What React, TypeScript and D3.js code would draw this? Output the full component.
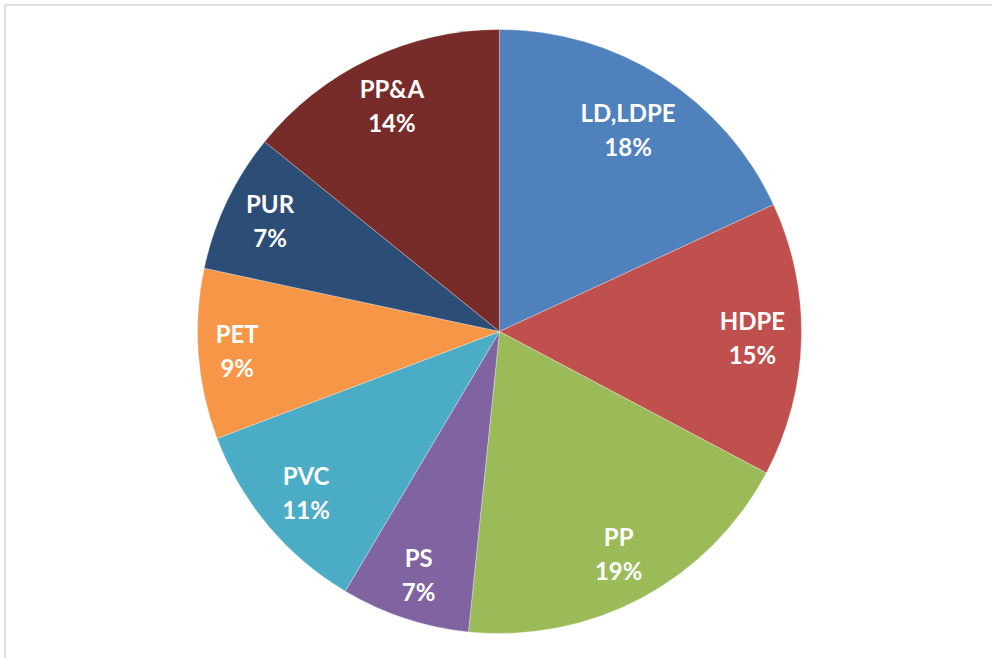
import React from "react";
import * as d3 from "d3";

const categories = ["LD,LDPE", "HDPE", "PP", "PS", "PVC", "PET", "PUR", "PP&A"];
const values = [18.1, 14.66, 18.88, 6.89, 10.71, 9.12, 7.46, 14.18];
const colors = ["#4F81BD", "#C0504D", "#9BBB59", "#8064A2", "#4BACC6", "#F79646", "#2C4D75", "#772C2A"];

const W = 992;
const H = 658;
const CX = 499.5;
const CY = 331.5;
const R = 302;
const FONT_SIZE = 24;
const LINE_GAP = 34;
const FONT = `700 ${FONT_SIZE}px Lato`;

function measure(text: string): number {
  if (typeof document === "undefined") return text.length * FONT_SIZE * 0.55;
  const c = document.createElement("canvas");
  const ctx = c.getContext("2d");
  if (!ctx) return text.length * FONT_SIZE * 0.55;
  ctx.font = FONT;
  return ctx.measureText(text).width;
}

// place label box inside the pie: largest radius along the mid-angle where the
// box's outer corner stays within a target distance from the centre
function fitRadius(angle: number, hw: number, hh: number, target: number): number {
  const ux = Math.sin(angle);
  const uy = -Math.cos(angle);
  const ox = ux >= 0 ? hw : -hw;
  const oy = uy >= 0 ? hh : -hh;
  const b = ux * ox + uy * oy;
  const c = ox * ox + oy * oy - target * target;
  return -b + Math.sqrt(b * b - c);
}

export default function App() {
  const data = categories.map((c, i) => ({ name: c, value: values[i], color: colors[i] }));
  const pie = d3.pie<any>().sort(null).value((d: any) => d.value);
  const arcs = pie(data);
  const arc = d3.arc<any>().innerRadius(0).outerRadius(R);
  const total = d3.sum(values);
  return (
    <div style={{ position: "absolute", left: 0, top: 0, width: W, height: H, background: "#fff" }}>
      <svg width={W} height={H} style={{ display: "block" }}>
        <rect x={0} y={0} width={W} height={H} fill="#fff" />
        <line x1={5} y1={5} x2={W} y2={5} stroke="#dedede" strokeWidth={2} />
        <line x1={5} y1={5} x2={5} y2={H} stroke="#dedede" strokeWidth={2} />
        <g transform={`translate(${CX},${CY})`}>
          {arcs.map((a, i) => (
            <path key={i} d={arc(a) as string} fill={a.data.color} stroke="#ffffff" strokeOpacity={0.4} strokeWidth={0.75} />
          ))}
          {arcs.map((a, i) => {
            const pct = Math.round((a.data.value / total) * 100) + "%";
            const mid = (a.startAngle + a.endAngle) / 2;
            const hw = Math.max(measure(a.data.name), measure(pct)) / 2;
            const r = fitRadius(mid, hw, 26, R * 0.952);
            const la = d3.arc<any>().innerRadius(r).outerRadius(r);
            const [x, y] = la.centroid(a);
            return (
              <text
                key={"t" + i}
                x={x}
                y={y}
                textAnchor="middle"
                fill="#fff"
                fontFamily="Lato, 'Open Sans', sans-serif"
                fontWeight={700}
                fontSize={FONT_SIZE}
              >
                <tspan x={x} dy={-8.5}>{a.data.name}</tspan>
                <tspan x={x} dy={LINE_GAP}>{pct}</tspan>
              </text>
            );
          })}
        </g>
      </svg>
    </div>
  );
}
